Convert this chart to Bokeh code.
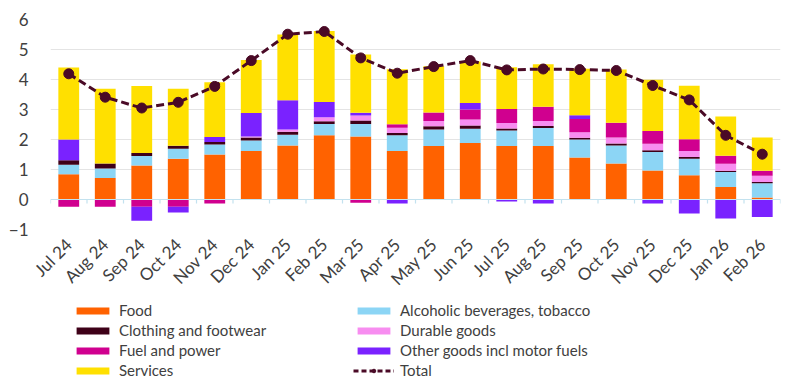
import math
from bokeh.plotting import figure
from bokeh.layouts import column
from bokeh.models import (ColumnDataSource, Range1d, FactorRange, Legend, LegendItem,
                          FixedTicker, Span)
from bokeh.transform import dodge
from bokeh.embed import file_html
from bokeh.resources import INLINE

categories = ["Jul 24", "Aug 24", "Sep 24", "Oct 24", "Nov 24", "Dec 24", "Jan 25", "Feb 25",
              "Mar 25", "Apr 25", "May 25", "Jun 25", "Jul 25", "Aug 25", "Sep 25", "Oct 25",
              "Nov 25", "Dec 25", "Jan 26", "Feb 26"]

food = [0.84, 0.72, 1.13, 1.36, 1.50, 1.62, 1.80, 2.14, 2.10, 1.62, 1.78, 1.88, 1.78, 1.78,
        1.40, 1.20, 0.97, 0.81, 0.42, 0.07]
alcohol_tobacco = [0.32, 0.31, 0.32, 0.33, 0.33, 0.35, 0.36, 0.38, 0.42, 0.52, 0.55, 0.48, 0.52,
                   0.60, 0.60, 0.60, 0.61, 0.55, 0.50, 0.47]
clothing = [0.15, 0.17, 0.10, 0.10, 0.09, 0.10, 0.10, 0.09, 0.11, 0.08, 0.11, 0.11, 0.07, 0.07,
            0.06, 0.07, 0.06, 0.06, 0.04, 0.04]
durable = [0.00, 0.00, 0.00, 0.00, 0.00, 0.03, 0.07, 0.13, 0.17, 0.17, 0.18, 0.20, 0.18, 0.17,
           0.18, 0.20, 0.22, 0.20, 0.23, 0.21]
fuel_power = [-0.24, -0.24, -0.24, -0.24, -0.13, 0.00, 0.00, 0.00, -0.11, 0.12, 0.28, 0.33, 0.47,
              0.47, 0.44, 0.49, 0.42, 0.39, 0.27, 0.17]
other_goods = [0.69, 0.00, -0.47, -0.19, 0.16, 0.78, 0.98, 0.51, 0.09, -0.13, 0.00, 0.22, -0.07,
               -0.13, 0.13, 0.00, -0.13, -0.47, -0.63, -0.58]
services = [2.40, 2.49, 2.23, 1.90, 1.83, 1.77, 2.19, 2.37, 1.94, 1.83, 1.54, 1.38, 1.39, 1.42,
            1.55, 1.77, 1.71, 1.78, 1.31, 1.11]
total = [4.19, 3.41, 3.05, 3.24, 3.77, 4.63, 5.51, 5.60, 4.72, 4.21, 4.43, 4.63, 4.32, 4.35,
         4.33, 4.30, 3.80, 3.32, 2.14, 1.51]

y_ticks = [-1, 0, 1, 2, 3, 4, 5, 6]

series_names = ["Food", "Alcoholic beverages, tobacco", "Clothing and footwear", "Durable goods",
                "Fuel and power", "Other goods incl motor fuels", "Services"]
series_values = [food, alcohol_tobacco, clothing, durable, fuel_power, other_goods, services]
colors = ["#FF6200", "#8CD5F5", "#3E0018", "#F78DF0", "#D0008F", "#7A22FF", "#FFE000"]
total_color = "#4A0A26"

FONT = "Lato"
TXT = "#404040"

data = {"cat": categories, "total": total}
pos_keys, neg_keys = [], []
for i, vals in enumerate(series_values):
    pk, nk = f"p{i}", f"n{i}"
    data[pk] = [max(v, 0.0) for v in vals]
    data[nk] = [min(v, 0.0) for v in vals]
    pos_keys.append(pk)
    neg_keys.append(nk)
source = ColumnDataSource(data)

p = figure(x_range=FactorRange(*categories), y_range=Range1d(-1, 6),
           width=800, height=300, output_backend="svg", toolbar_location=None,
           min_border_left=50, min_border_right=20, min_border_top=19, min_border_bottom=71)
p.outline_line_color = None
p.background_fill_color = "white"

BW = 0.57
p.vbar_stack(pos_keys, x="cat", width=BW, color=colors, line_color=None, source=source)
p.vbar_stack(neg_keys, x="cat", width=BW, color=colors, line_color=None, source=source)

# zero axis line with boundary ticks
p.add_layout(Span(location=0, dimension="width", line_color="#C3E2EF", line_width=1.2))
p.segment(x0=dodge("cat", -0.5, range=p.x_range), x1=dodge("cat", -0.5, range=p.x_range),
          y0=0, y1=-0.13, line_color="#C3E2EF", line_width=1.2, source=source)
edge_src = ColumnDataSource({"cat": [categories[-1]]})
p.segment(x0=dodge("cat", 0.5, range=p.x_range), x1=dodge("cat", 0.5, range=p.x_range),
          y0=0, y1=-0.13, line_color="#C3E2EF", line_width=1.2, source=edge_src)

p.line("cat", "total", source=source, line_color=total_color, line_width=3, line_dash="8 4")
p.scatter("cat", "total", source=source, marker="circle", size=10,
          fill_color=total_color, line_color=total_color)

# axes
p.yaxis.ticker = FixedTicker(ticks=y_ticks)
p.yaxis.axis_line_color = None
p.yaxis.major_tick_line_color = None
p.yaxis.minor_tick_line_color = None
p.yaxis.major_label_standoff = 16
p.yaxis.major_label_text_font = FONT
p.yaxis.major_label_text_font_size = "17px"
p.yaxis.major_label_text_color = TXT

p.xaxis.axis_line_color = None
p.xaxis.major_tick_line_color = None
p.xaxis.major_label_orientation = math.pi / 4
p.xaxis.major_label_standoff = 6
p.xaxis.major_label_text_font = FONT
p.xaxis.major_label_text_font_size = "17px"
p.xaxis.major_label_text_color = TXT

p.xgrid.grid_line_color = None
p.ygrid.grid_line_color = "#E4E4E4"
p.ygrid.grid_line_width = 1.2
p.ygrid.ticker = FixedTicker(ticks=[-1, 1, 2, 3, 4, 5, 6])

# legend panel (separate figure below the chart; swatch renderers sit outside its view)
lg = figure(width=800, height=88, output_backend="svg", toolbar_location=None,
            x_range=Range1d(0, 1), y_range=Range1d(0, 1),
            x_axis_location=None, y_axis_location=None,
            min_border_left=0, min_border_right=0, min_border_top=0, min_border_bottom=0)
lg.outline_line_color = None
lg.xgrid.grid_line_color = None
lg.ygrid.grid_line_color = None

hidden = ColumnDataSource({"x": [-10.0], "y": [-10.0]})
swatch = {}
for n, c in zip(series_names, colors):
    swatch[n] = lg.vbar(x="x", top="y", bottom="y", width=0.1, color=c, line_color=None,
                        source=hidden)
t_line = lg.line(x="x", y="y", source=hidden, line_color=total_color, line_width=3,
                 line_dash="5 3")
t_dot = lg.scatter(x="x", y="y", source=hidden, marker="circle", size=9,
                   fill_color=total_color, line_color=total_color)

col1 = ["Food", "Clothing and footwear", "Fuel and power", "Services"]
col2 = ["Alcoholic beverages, tobacco", "Durable goods", "Other goods incl motor fuels"]
items = [LegendItem(label=n, renderers=[swatch[n]]) for n in col1 + col2]
items.append(LegendItem(label="Total", renderers=[t_line, t_dot]))
legend = Legend(items=items, ncols=2, location=(22, 8),
                glyph_width=41, glyph_height=9, label_standoff=6, spacing=0,
                padding=0, margin=0, label_width=234, label_height=20,
                label_text_font=FONT, label_text_font_size="15px", label_text_color=TXT,
                border_line_color=None, background_fill_alpha=0)
lg.add_layout(legend, "center")

open("out.html", "w").write(file_html(column(p, lg), INLINE))
